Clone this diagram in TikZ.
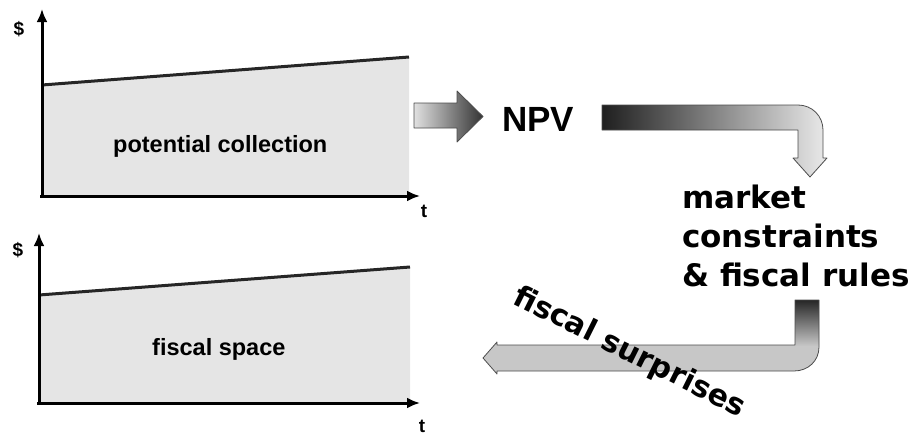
\documentclass[tikz,border=0pt]{standalone}
\usepackage{fontspec}
\setmainfont{Liberation Sans}
\newfontfamily\wide{DejaVu Sans}
\usetikzlibrary{arrows.meta}
\tikzset{
  axis/.style={line width=3pt, -{Latex[length=13pt,width=11pt]}},
  area/.style={fill=black!10},
  rise/.style={line width=3pt, draw=black!85},
  blockarrow/.style={draw=black!70, line width=0.8pt, line join=round},
  axlabel/.style={inner sep=0, font=\bfseries\fontsize{19}{22}\selectfont},
}
\begin{document}
\begin{tikzpicture}[x=1pt, y=-1pt, line join=round, >=stealth, font=\bfseries]
    \useasboundingbox (0,0) rectangle (919,434);
    % upper chart
    \fill[area] (42,85)--(409,57)--(409,196)--(42,196)--cycle;
    \draw[rise] (42,85)--(409,57);
    \draw[axis] (42,198)--(42,9);
    \draw[axis] (40,196)--(420,196);
    \node[axlabel] (cur) at (19,29) {\$};
    \node[axlabel] (tu) at (424,211) {t};
    \node[anchor=base west, inner sep=0] (pot) at (113,152) {\fontsize{23.5}{28}\selectfont potential collection};
    % lower chart
    \fill[area] (39,295)--(410,267)--(410,403)--(39,403)--cycle;
    \draw[rise] (39,295)--(410,267);
    \draw[axis] (39,405)--(39,233);
    \draw[axis] (37,403)--(420,403);
    \node[axlabel] (cll) at (18,250) {\$};
    \node[axlabel] (tl) at (422,426) {t};
    \node[anchor=base west, inner sep=0] (fsp) at (152,355) {\fontsize{23.5}{28}\selectfont fiscal space};
    % arrows and the right side
    \draw[blockarrow, left color=black!12, right color=black!80] (414,103)--(457,103)--(457,91)--(483,116.5)--(457,142)--(457,128)--(414,128)--cycle;
    \node[anchor=base west, inner sep=0] (npv) at (502,131) {\fontsize{35}{40}\selectfont NPV};
    \draw[blockarrow, left color=black!88, right color=black!8] (602,105)--(798,105) .. controls (812,105) and (823,116) .. (823,130)--(823,158)--(827,158)--(810,177)--(793,158)--(798,158)--(798,130)--(602,130)--cycle;
    \node[anchor=north west, align=left, inner sep=0, font=\wide\bfseries\fontsize{31}{39}\selectfont] (rules) at (682,185) {market\\constraints\\\& fiscal rules};
    \fill[black!22] (795,300)--(819,300)--(819,347) .. controls (819,361) and (808,371) .. (794,371)--(497,371)--(497,374)--(483,358)--(497,342)--(497,345)--(795,345)--cycle;
    \shade[top color=black!85, bottom color=black!22] (795,300) rectangle (819,346);
    \draw[blockarrow] (795,300)--(819,300)--(819,347) .. controls (819,361) and (808,371) .. (794,371)--(497,371)--(497,374)--(483,358)--(497,342)--(497,345)--(795,345)--cycle;
    \node[anchor=base west, inner sep=0, rotate=-26.5] (surp) at (511,303) {\wide\fontsize{30}{36}\selectfont fiscal surprises};
\end{tikzpicture}
\end{document}
